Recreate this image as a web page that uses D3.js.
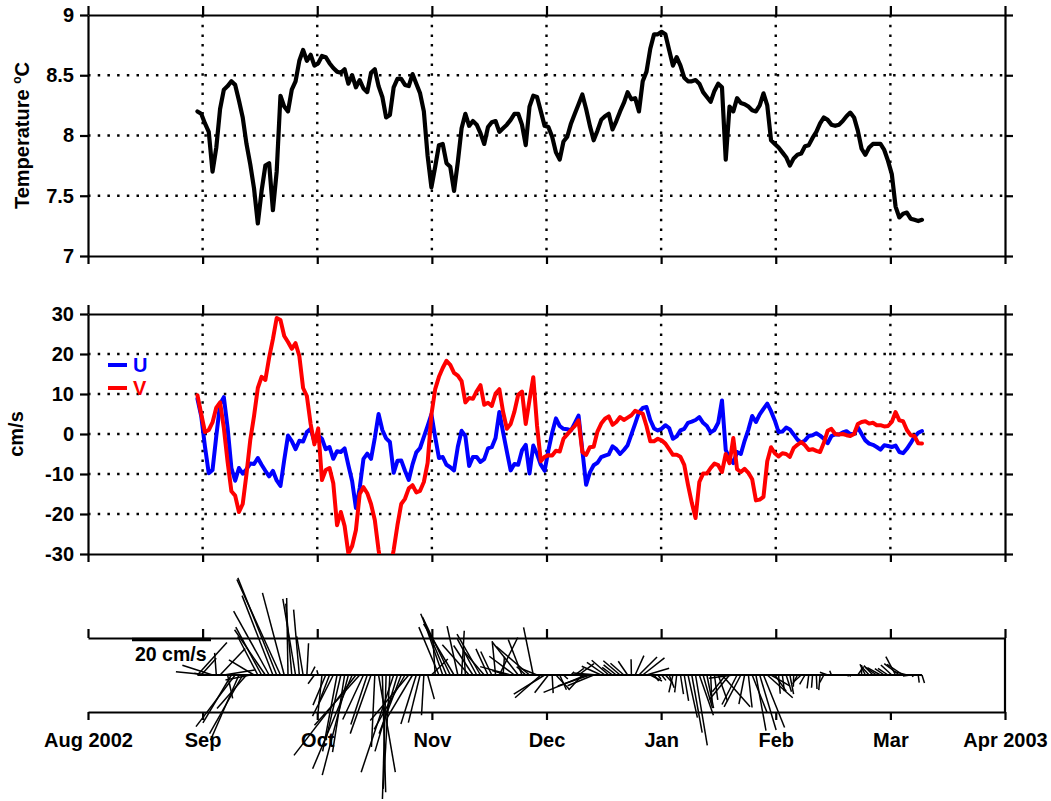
<!DOCTYPE html>
<html><head><meta charset="utf-8">
<script src="https://cdn.jsdelivr.net/npm/d3@7"></script>
<style>
body{margin:0;background:#fff}
text{font-family:"Liberation Sans",Arial,Helvetica,sans-serif;font-weight:bold;fill:#000}
</style>
</head><body>
<svg id="chart" width="1051" height="801"></svg>
<script>
// ---------------- data ----------------
// daily values, first value on day 29 after 1 Aug 2002 (30 Aug 2002)
const firstDay = 29;
const totalDays = 243; // 1 Aug 2002 .. 1 Apr 2003 (axis span)
const monthLabels = ["Aug 2002","Sep","Oct","Nov","Dec","Jan","Feb","Mar","Apr 2003"];
const tempTicks = [7, 7.5, 8, 8.5, 9];
const velTicks = [-30, -20, -10, 0, 10, 20, 30];
const scaleBarSpeed = 20; // cm/s

const temperature = [
 8.20,8.18,8.10,8.03,7.70,7.90,8.22,8.38,8.41,8.45,
 8.42,8.29,8.15,7.93,7.76,7.56,7.27,7.54,7.75,7.77,
 7.38,7.70,8.33,8.24,8.20,8.38,8.45,8.62,8.71,8.62,
 8.67,8.58,8.60,8.66,8.65,8.60,8.56,8.53,8.52,8.55,
 8.43,8.50,8.40,8.46,8.39,8.36,8.52,8.55,8.41,8.32,
 8.15,8.17,8.40,8.47,8.47,8.42,8.41,8.51,8.43,8.35,
 8.20,7.83,7.57,7.74,7.92,7.93,7.77,7.74,7.54,7.78,
 8.06,8.18,8.08,8.12,8.09,8.02,7.93,8.07,8.11,8.12,
 8.03,8.06,8.09,8.13,8.18,8.18,8.09,7.92,8.24,8.33,
 8.32,8.20,8.08,8.07,7.99,7.86,7.80,7.95,7.99,8.10,
 8.18,8.26,8.34,8.22,8.08,7.96,8.04,8.13,8.16,8.18,
 8.05,8.12,8.20,8.27,8.36,8.30,8.31,8.20,8.45,8.53,
 8.72,8.84,8.84,8.86,8.84,8.71,8.58,8.65,8.58,8.48,
 8.45,8.45,8.46,8.43,8.36,8.32,8.28,8.37,8.43,8.40,
 7.80,8.24,8.20,8.31,8.27,8.26,8.24,8.21,8.20,8.25,
 8.35,8.25,7.96,7.93,7.90,7.86,7.82,7.75,7.81,7.84,
 7.85,7.91,7.92,7.98,8.03,8.10,8.15,8.13,8.09,8.08,
 8.09,8.12,8.16,8.19,8.15,8.04,7.89,7.84,7.90,7.93,
 7.93,7.93,7.88,7.79,7.68,7.41,7.32,7.35,7.36,7.31,
 7.30,7.29,7.30
];

const uVel = [
 8.8,4.5,-3.2,-9.8,-9.0,-0.5,7.5,9.2,1.5,-8.5,
 -11.7,-8.5,-9.9,-8.8,-7.4,-7.5,-6.0,-7.7,-9.2,-10.6,
 -9.2,-11.6,-13.0,-6.5,-0.4,-1.8,-3.8,-1.7,-1.9,0.5,
 1.3,-1.9,-0.4,-1.2,-3.8,-3.25,-6.2,-4.3,-4.5,-3.6,
 -7.8,-11.8,-18.5,-13.5,-6.2,-4.9,-6.2,-1.0,5.0,1.0,
 -1.1,-2.0,-9.7,-6.7,-6.6,-9.2,-11.5,-7.6,-4.6,-3.5,
 -0.7,2.0,4.9,-0.7,-6.0,-5.75,-7.7,-8.3,-9.1,-3.2,
 0.8,-0.5,-8.0,-5.75,-5.75,-7.0,-6.3,-3.6,-3.3,-1.0,
 5.5,0.4,-4.4,-9.1,-7.5,-7.7,-4.1,-2.7,-9.9,-2.9,
 -5.0,-7.7,-9.2,-4.1,0.3,3.9,2.0,1.3,1.2,0.9,
 2.7,4.6,-4.1,-12.7,-9.6,-7.8,-7.2,-5.8,-5.4,-5.1,
 -3.1,-3.8,-5.0,-4.0,-2.8,-0.1,2.6,5.4,6.5,6.75,
 3.5,1.4,0.9,1.3,2.2,1.5,-1.2,-0.6,0.9,1.3,
 2.8,3.1,3.5,4.2,2.8,2.0,0.4,1.0,2.8,8.4,
 -4.0,-6.0,-7.3,-4.5,-5.0,-1.7,1.1,4.5,3.0,4.9,
 6.3,7.6,5.7,3.4,0.5,0.6,1.6,1.1,-0.1,-1.4,
 -2.2,-1.6,-0.5,-0.3,0.2,-0.4,-1.2,-2.3,-0.5,-0.1,
 -0.1,0.4,0.7,0.0,0.0,1.7,0.0,-1.6,-2.4,-2.7,
 -3.25,-3.9,-2.8,-3.0,-3.25,-2.9,-4.5,-4.8,-3.7,-2.3,
 -0.7,0.3,0.75
];

const vVel = [
 9.7,5.0,0.5,1.0,2.9,6.6,7.9,1.5,-7.0,-14.3,
 -15.4,-19.5,-17.5,-10.0,-1.5,4.5,11.5,14.3,13.5,19.1,
 23.7,29.0,28.5,24.5,23.0,21.3,22.7,19.5,11.5,9.5,
 2.5,-2.6,1.4,-11.5,-9.0,-8.5,-12.3,-22.8,-19.5,-23.0,
 -29.9,-28.0,-24.0,-15.0,-13.3,-14.8,-17.5,-21.5,-29.0,-35.0,
 -37.0,-34.0,-29.0,-22.8,-17.5,-16.2,-13.6,-12.8,-14.6,-14.2,
 -12.0,-7.2,4.8,11.2,14.3,16.5,18.3,17.3,15.3,14.6,
 13.2,7.9,9.0,8.8,10.7,12.2,7.3,7.8,7.0,10.1,
 11.2,5.5,1.3,2.5,5.6,9.8,10.6,2.5,8.5,14.2,
 2.0,-6.8,-5.7,-5.3,-5.4,-4.2,-4.4,-1.2,-0.1,1.0,
 2.0,3.4,-4.5,-5.2,-3.3,-3.2,0.6,2.6,3.8,4.4,
 2.3,3.0,4.25,3.5,4.1,4.7,5.8,5.4,5.1,2.0,
 -1.8,-1.8,-1.2,-1.6,-2.4,-3.8,-5.2,-5.2,-5.7,-7.7,
 -12.7,-17.2,-21.0,-12.0,-9.9,-9.9,-8.5,-7.4,-7.8,-9.5,
 -5.0,-7.3,-1.0,-8.8,-9.5,-8.7,-9.7,-11.3,-16.6,-16.4,
 -15.7,-6.8,-3.3,-4.8,-5.6,-4.8,-5.0,-5.7,-3.5,-2.7,
 -2.0,-2.8,-4.0,-3.8,-4.2,-4.5,-2.2,0.8,1.3,0.0,
 -0.1,0.0,-0.3,-0.5,0.0,2.5,3.0,3.2,2.6,2.8,
 2.2,2.2,1.9,2.0,3.0,5.5,3.4,3.2,1.0,-0.3,
 -0.5,-2.3,-2.4
];

// ---------------- layout ----------------
const svg = d3.select("#chart");
const left = 88, right = 1005;
const P1 = {top: 15, bottom: 256};
const P2 = {top: 314, bottom: 554};
const P3 = {top: 638, bottom: 712};
const P3base = (P3.top + P3.bottom) / 2;

const x = d3.scaleLinear().domain([0, totalDays]).range([left, right]);
const monthTicks = d3.range(monthLabels.length).map(i => i * totalDays / (monthLabels.length - 1));
const days = d3.range(temperature.length).map(i => firstDay + i);

const yT = d3.scaleLinear().domain([tempTicks[0], tempTicks[tempTicks.length - 1]]).range([P1.bottom, P1.top]);
const yV = d3.scaleLinear().domain([velTicks[0], velTicks[velTicks.length - 1]]).range([P2.bottom, P2.top]);
// stick length (pixels per cm/s) and the drawn scale-bar length
const stickLen = d3.scaleLinear().domain([0, 1]).range([0, 3.35]);
const barLen = d3.scaleLinear().domain([0, scaleBarSpeed]).range([0, 79]);

const FS = 20;
const dotted = "2.5,7.2";

function styleAxis(g) {
  g.selectAll("path.domain").attr("stroke", "#000").attr("stroke-width", 2.2);
  g.selectAll(".tick line").attr("stroke", "#000").attr("stroke-width", 2.2);
  g.selectAll(".tick text").attr("font-size", FS).attr("font-family", '"Liberation Sans", Arial, sans-serif').attr("font-weight", "bold").attr("fill", "#000");
}

function framePanel(y, ticks, top, bottom, clipId) {
  const defs = svg.append("defs");
  defs.append("clipPath").attr("id", clipId).append("rect")
    .attr("x", left).attr("y", top).attr("width", right - left).attr("height", bottom - top);
  const grid = svg.append("g");
  grid.selectAll("line.v").data(monthTicks.slice(1, -1)).join("line")
    .attr("x1", d => x(d)).attr("x2", d => x(d)).attr("y1", top).attr("y2", bottom)
    .attr("stroke", "#000").attr("stroke-width", 2.4).attr("stroke-dasharray", dotted);
  grid.selectAll("line.h").data(ticks.slice(1, -1)).join("line")
    .attr("x1", left).attr("x2", right).attr("y1", d => y(d)).attr("y2", d => y(d))
    .attr("stroke", "#000").attr("stroke-width", 2.4).attr("stroke-dasharray", dotted);
  svg.append("g").attr("transform", `translate(${left},0)`)
    .call(d3.axisLeft(y).tickValues(ticks).tickSize(8).tickSizeOuter(0).tickPadding(6).tickFormat(d => String(d)))
    .call(styleAxis);
  svg.append("g").attr("transform", `translate(${right},0)`)
    .call(d3.axisRight(y).tickValues(ticks).tickSize(8).tickSizeOuter(0).tickFormat(""))
    .call(styleAxis);
  svg.append("g").attr("transform", `translate(0,${top})`)
    .call(d3.axisTop(x).tickValues(monthTicks).tickSize(9).tickSizeOuter(0).tickFormat(""))
    .call(styleAxis);
  svg.append("g").attr("transform", `translate(0,${bottom})`)
    .call(d3.axisBottom(x).tickValues(monthTicks).tickSize(8).tickSizeOuter(0).tickFormat(""))
    .call(styleAxis);
}

// ---------- panel 1: temperature ----------
framePanel(yT, tempTicks, P1.top, P1.bottom, "clip1");
svg.append("path").datum(temperature)
  .attr("clip-path", "url(#clip1)")
  .attr("fill", "none").attr("stroke", "#000").attr("stroke-width", 4.2)
  .attr("stroke-linejoin", "round").attr("stroke-linecap", "round")
  .attr("d", d3.line().x((d, i) => x(days[i])).y(d => yT(d)));

const tLab = svg.append("text")
  .attr("transform", `translate(29,${(P1.top + P1.bottom) / 2}) rotate(-90)`)
  .attr("text-anchor", "middle").attr("font-size", FS);
tLab.append("tspan").text("Temperature ");
tLab.append("tspan").attr("font-size", 12).attr("dy", -8).text("o");
tLab.append("tspan").attr("dy", 8).text("C");

// ---------- panel 2: velocity ----------
framePanel(yV, velTicks, P2.top, P2.bottom, "clip2");
const vLine = d3.line().x((d, i) => x(days[i])).y(d => yV(d));
svg.append("path").datum(uVel)
  .attr("clip-path", "url(#clip2)")
  .attr("fill", "none").attr("stroke", "#0000ff").attr("stroke-width", 4)
  .attr("stroke-linejoin", "round").attr("stroke-linecap", "round").attr("d", vLine);
svg.append("path").datum(vVel)
  .attr("clip-path", "url(#clip2)")
  .attr("fill", "none").attr("stroke", "#ff0000").attr("stroke-width", 4)
  .attr("stroke-linejoin", "round").attr("stroke-linecap", "round").attr("d", vLine);

svg.append("text")
  .attr("transform", `translate(23,${(P2.top + P2.bottom) / 2}) rotate(-90)`)
  .attr("text-anchor", "middle").attr("font-size", FS).text("cm/s");

const legend = [{name: "U", color: "#0000ff", y: 365}, {name: "V", color: "#ff0000", y: 388}];
const lg = svg.append("g");
lg.selectAll("line").data(legend).join("line")
  .attr("x1", 108).attr("x2", 127).attr("y1", d => d.y).attr("y2", d => d.y)
  .attr("stroke", d => d.color).attr("stroke-width", 4);
lg.selectAll("text").data(legend).join("text")
  .attr("x", 133).attr("y", d => d.y + 7).attr("font-size", 20)
  .style("fill", d => d.color).text(d => d.name);

// ---------- panel 3: stick plot ----------
svg.append("g").attr("transform", `translate(0,${P3.top})`)
  .call(d3.axisTop(x).tickValues(monthTicks).tickSize(9).tickSizeOuter(0).tickFormat(""))
  .call(styleAxis);
svg.append("g").attr("transform", `translate(0,${P3.bottom})`)
  .call(d3.axisBottom(x).tickValues(monthTicks).tickSize(8).tickSizeOuter(0).tickPadding(13)
        .tickFormat((d, i) => monthLabels[i]))
  .call(styleAxis);
svg.append("line").attr("x1", right).attr("x2", right).attr("y1", P3.top).attr("y2", P3.bottom)
  .attr("stroke", "#000").attr("stroke-width", 2.2);

const sticks = days.map((d, i) => ({d, u: uVel[i], v: vVel[i]}));
svg.append("g").selectAll("line").data(sticks).join("line")
  .attr("x1", s => x(s.d)).attr("y1", P3base)
  .attr("x2", s => x(s.d) + Math.sign(s.u) * stickLen(Math.abs(s.u)))
  .attr("y2", s => P3base - Math.sign(s.v) * stickLen(Math.abs(s.v)))
  .attr("stroke", "#000").attr("stroke-width", 1.5);
svg.append("line")
  .attr("x1", x(days[0])).attr("x2", x(days[days.length - 1]))
  .attr("y1", P3base).attr("y2", P3base)
  .attr("stroke", "#000").attr("stroke-width", 2);

svg.append("line").attr("x1", 132).attr("x2", 132 + barLen(scaleBarSpeed))
  .attr("y1", 639.5).attr("y2", 639.5).attr("stroke", "#000").attr("stroke-width", 3.5);
svg.append("text").attr("x", 135).attr("y", 661).attr("font-size", 19.5).text(scaleBarSpeed + " cm/s");
</script>
</body></html>
